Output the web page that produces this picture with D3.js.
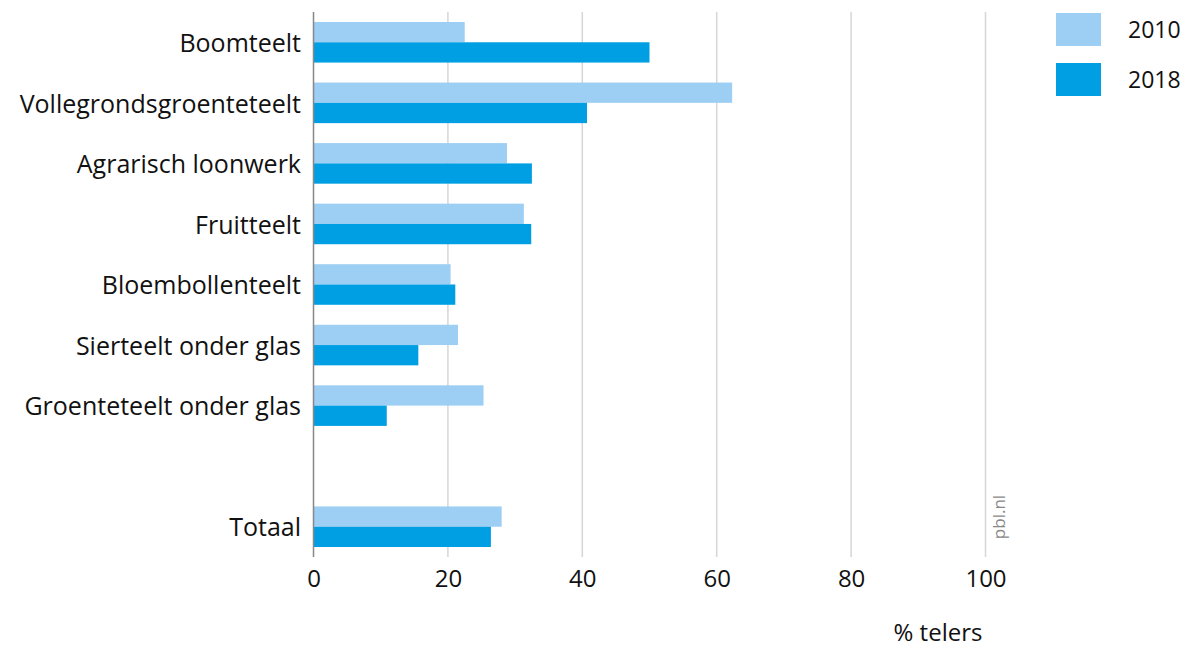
<!DOCTYPE html>
<html><head><meta charset="utf-8">
<script src="https://cdn.jsdelivr.net/npm/d3@7"></script>
<style>body{margin:0;background:#fff;} text{font-family:"Open Sans",sans-serif;}</style>
</head><body>
<svg id="c" width="1184" height="649"></svg>
<script>
const categories = ["Boomteelt","Vollegrondsgroenteteelt","Agrarisch loonwerk","Fruitteelt","Bloembollenteelt","Sierteelt onder glas","Groenteteelt onder glas","","Totaal"];
const series2010 = [22.5, 62.3, 28.8, 31.3, 20.4, 21.5, 25.3, null, 28.0];
const series2018 = [50.0, 40.7, 32.5, 32.4, 21.1, 15.6, 10.9, null, 26.4];
const seriesNames = ["2010","2018"];
const colors = ["#9dcef3","#009fe3"];
const xTicks = [0,20,40,60,80,100];
const xTitle = "% telers";
const source = "pbl.nl";

const svg = d3.select("#c");
const x = d3.scaleLinear().domain([0,100]).range([313.5,985.5]);
const y = d3.scaleBand().domain(d3.range(categories.length)).range([12,557]).paddingInner(0.33).paddingOuter(0.165);
const bw = y.bandwidth()/2;

// grid
svg.append("g").selectAll("line").data(xTicks.filter(d=>d>0)).join("line")
  .attr("x1",d=>x(d)).attr("x2",d=>x(d)).attr("y1",12).attr("y2",557)
  .attr("stroke","#d6d6d6").attr("stroke-width",1.5);

const data = [series2010, series2018];
data.forEach((s,si)=>{
  svg.append("g").selectAll("rect").data(s.map((v,i)=>({v,i})).filter(d=>d.v!=null)).join("rect")
    .attr("x",x(0)).attr("y",d=>y(d.i)+si*bw).attr("width",d=>x(d.v)-x(0)).attr("height",bw)
    .attr("fill",colors[si]);
});

// axis line
svg.append("line").attr("x1",x(0)).attr("x2",x(0)).attr("y1",12).attr("y2",557).attr("stroke","#888").attr("stroke-width",1.5);

// category labels
svg.append("g").selectAll("text").data(categories).join("text")
  .attr("x",301).attr("y",(d,i)=>y(i)+y.bandwidth()/2+1).attr("dy","0.35em")
  .attr("text-anchor","end").attr("font-size",25).attr("fill","#111").text(d=>d);

// x tick labels
const xa = svg.append("g").attr("transform","translate(0,569)")
  .call(d3.axisBottom(x).tickValues(xTicks).tickSize(0).tickPadding(0));
xa.select(".domain").remove();
xa.selectAll("text").attr("font-size",24).attr("fill","#111").attr("font-family","'Open Sans',sans-serif").attr("dy","0.75em");

svg.append("text").attr("x",938).attr("y",641).attr("text-anchor","middle").attr("font-size",24).attr("fill","#111").text(xTitle);

svg.append("text").attr("transform","translate(1005,517) rotate(-90)").attr("text-anchor","middle").attr("font-size",17).attr("fill","#888").text(source);

// legend
seriesNames.forEach((n,i)=>{
  svg.append("rect").attr("x",1056).attr("y",13+i*50).attr("width",45).attr("height",33).attr("fill",colors[i]);
  svg.append("text").attr("x",1128).attr("y",30+i*50).attr("dy","0.35em").attr("font-size",23).attr("fill","#111").text(n);
});
</script>
</body></html>
